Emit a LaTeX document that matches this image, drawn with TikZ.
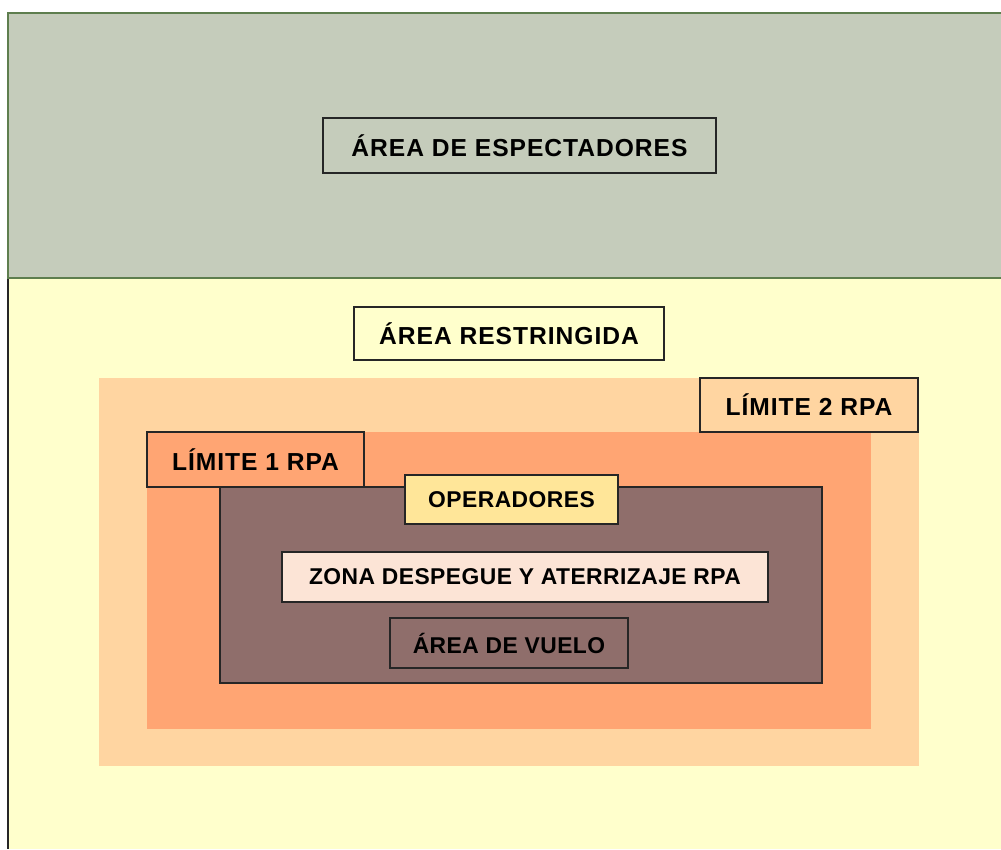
\documentclass[tikz,border=0pt]{standalone}
\usepackage{fontspec}
\setmainfont{Liberation Sans}
\newfontfamily\anchaa{Liberation Sans}[LetterSpace=4]
\newfontfamily\anchab{Liberation Sans}[LetterSpace=2]
\definecolor{espect}{HTML}{C5CCBB}
\definecolor{espectborde}{HTML}{5E7E4E}
\definecolor{restr}{HTML}{FFFFCC}
\definecolor{limdos}{HTML}{FFD5A1}
\definecolor{limuno}{HTML}{FFA573}
\definecolor{vuelo}{HTML}{8F6E6B}
\definecolor{oper}{HTML}{FFE699}
\definecolor{zona}{HTML}{FCE4D6}
\definecolor{borde}{HTML}{262626}
\begin{document}
\begin{tikzpicture}[x=0.02cm,y=-0.02cm,
   etiqueta/.style={draw=borde,line width=1.1pt,inner sep=0pt,font=\anchaa\fontsize{14}{16}\selectfont\bfseries},
   etiquetab/.style={etiqueta,font=\anchab\fontsize{13}{15}\selectfont\bfseries}]
   \useasboundingbox[fill=white] (0,0) rectangle (1001,849);
   % zonas
   \fill[restr] (8,278) rectangle (1001,849);
   \draw[borde,line width=1pt] (8,278) -- (8,849);
   \draw[fill=espect,draw=espectborde,line width=1.3pt] (8,13) rectangle (1010,278);
   \fill[limdos] (99,378) rectangle (919,766);
   \fill[limuno] (147,432) rectangle (871,729);
   \draw[fill=vuelo,draw=borde,line width=1pt] (220,487) rectangle (822,683);
   % etiquetas
   \node[etiqueta,minimum width=7.86cm,minimum height=1.1cm] (espectadores) at (519.5,145.5) {ÁREA DE ESPECTADORES};
   \node[etiqueta,minimum width=6.2cm,minimum height=1.06cm] (restringida) at (509,333.5) {ÁREA RESTRINGIDA};
   \node[etiqueta,fill=limdos,minimum width=4.36cm,minimum height=1.08cm] (limite2) at (809,405) {LÍMITE 2 RPA};
   \node[etiqueta,fill=limuno,minimum width=4.34cm,minimum height=1.1cm] (limite1) at (255.5,459.5) {LÍMITE 1 RPA};
   \node[etiquetab,fill=oper,minimum width=4.26cm,minimum height=0.98cm] (operadores) at (511.5,499.5) {OPERADORES};
   \node[etiquetab,fill=zona,minimum width=9.72cm,minimum height=1cm] (despegue) at (525,577) {ZONA DESPEGUE Y ATERRIZAJE RPA};
   \node[etiquetab,fill=vuelo,minimum width=4.76cm,minimum height=1cm] (areavuelo) at (509,643) {ÁREA DE VUELO};
\end{tikzpicture}
\end{document}
